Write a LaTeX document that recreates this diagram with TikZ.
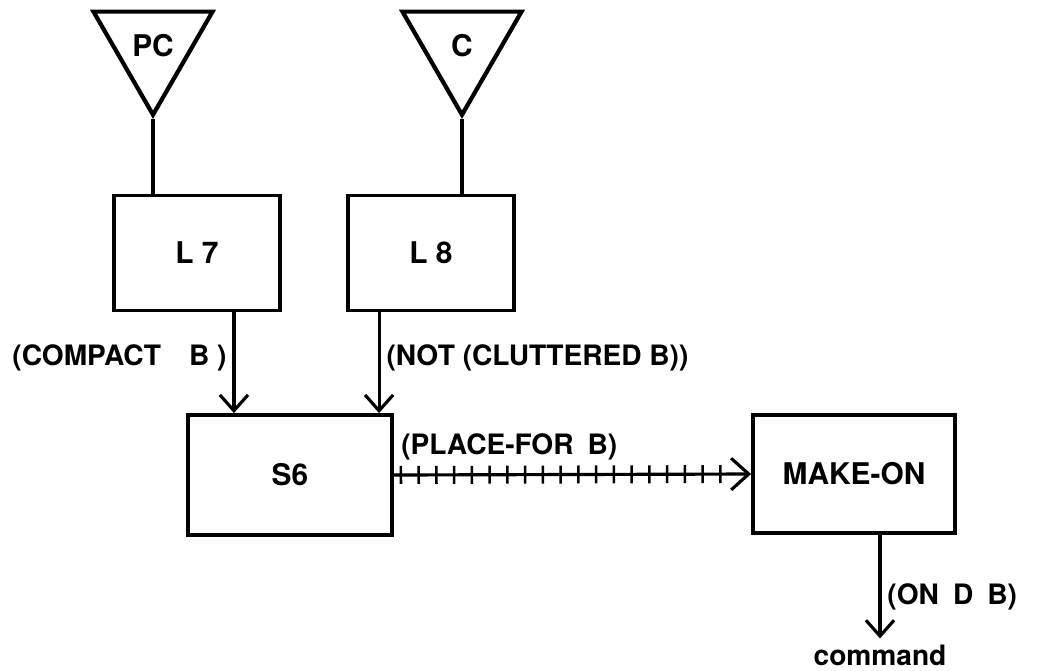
\documentclass[tikz,border=0pt]{standalone}
\usepackage{fontspec}
\setmainfont{TeX Gyre Heros}
\usetikzlibrary{arrows.meta, calc, positioning, shapes.geometric, decorations.markings}

\begin{document}
\begin{tikzpicture}[x=0.02cm, y=-0.02cm, >={Straight Barb[length=9pt, width=16pt]},
        unit/.style={draw, line width=2.2pt, minimum width=3.32cm, minimum height=2.3cm, font=\fontsize{17}{20}\selectfont\bfseries},
        probe/.style={draw, line width=2.4pt, regular polygon, regular polygon sides=3, shape border rotate=180, minimum size=2.75cm, inner sep=0pt, font=\fontsize{17}{20}\selectfont\bfseries},
        flow/.style={->, line width=1.8pt},
        lbl/.style={font=\fontsize{16}{19}\selectfont\bfseries},
        hatched/.style={line width=1.8pt, postaction={decorate},
            decoration={markings, mark=between positions 0.14cm and -0.6cm step 0.355cm with {\draw[-, line width=1.5pt] (0,-0.18cm) -- (0,0.18cm);}}}]

        \useasboundingbox (0,0) rectangle (1037,670);

        % Sources
        \node[probe] (pc) at (153,46) {PC};
        \node[probe] (c) at (462,46) {C};

        % Units
        \node[unit] (l7) at (197,253) {L 7};
        \node[unit] (l8) at (431,253) {L 8};
        \node[unit, minimum width=4.08cm, minimum height=2.4cm] (s6) at (290,475) {S6};
        \node[unit, minimum width=4.04cm, minimum height=2.36cm] (makeon) at (854,474) {MAKE-ON};
        \node[lbl] (cmd) at (880,655) {command};

        % Stems
        \draw[line width=2.2pt] (pc.corner 1) -- (pc.corner 1 |- l7.north);
        \draw[line width=2.2pt] (c.corner 1) -- (c.corner 1 |- l8.north);

        % Arrows
        \coordinate (l7out) at ([xshift=-0.96cm]l7.south east);
        \coordinate (l8out) at ([xshift=0.66cm]l8.south west);
        \coordinate (mkout) at (cmd.north |- makeon.south);

        \draw[flow] (l7out) -- (l7out |- s6.north) node[lbl, pos=0.45, left] {(COMPACT\quad B\ )};
        \draw[flow] (l8out) -- (l8out |- s6.north) node[lbl, pos=0.45, right] {(NOT (CLUTTERED B))};
        \draw[hatched, -{Straight Barb[length=10pt, width=18pt]}] (s6.east) -- (makeon.west)
            node[lbl, at start, anchor=south west, yshift=0.14cm] {(PLACE-FOR\enspace B)};
        \draw[flow] (mkout) -- (cmd.north) node[lbl, pos=0.6, right] {(ON\enspace D\enspace B)};
\end{tikzpicture}
\end{document}
